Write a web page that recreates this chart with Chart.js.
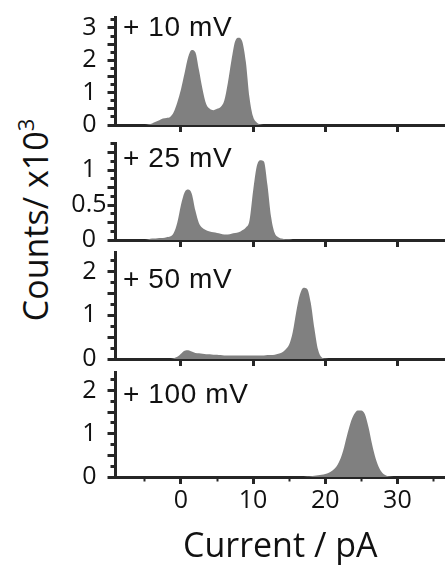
<!DOCTYPE html>
<html>
<head>
<meta charset="utf-8">
<script src="https://cdn.jsdelivr.net/npm/chart.js@4.4.1/dist/chart.umd.min.js"></script>
<style>
  body { margin: 0; background: #fff; width: 445px; height: 566px; position: relative; overflow: hidden; }
  canvas { position: absolute; left: 0; }
  .vlabel { position: absolute; left: 123px; font-family: "Liberation Sans", Arial, sans-serif; font-size: 28px; letter-spacing: 0.6px; line-height: 1; color: #111; white-space: nowrap; }
  #ytitle { position: absolute; left: 35px; top: 220px; font-family: "Open Sans", sans-serif; font-size: 34px; line-height: 1; color: #111; white-space: nowrap; transform: translate(-50%, -50%) rotate(-90deg); }
  #ytitle sup { font-size: 22px; vertical-align: 14px; line-height: 0; }
</style>
</head>
<body>
<div id="ytitle">Counts/ x10<sup>3</sup></div>
<script>
// current axis (pA), shared by all four histograms
const currents = [
  -9, -8.5, -8, -7.5, -7, -6.5, -6, -5.5, -5, -4.5,
  -4, -3.5, -3, -2.5, -2, -1.5, -1, -0.5, 0, 0.5,
  1, 1.5, 2, 2.5, 3, 3.5, 4, 4.5, 5, 5.5,
  6, 6.5, 7, 7.5, 8, 8.5, 9, 9.5, 10, 10.5,
  11, 11.5, 12, 12.5, 13, 13.5, 14, 14.5, 15, 15.5,
  16, 16.5, 17, 17.5, 18, 18.5, 19, 19.5, 20, 20.5,
  21, 21.5, 22, 22.5, 23, 23.5, 24, 24.5, 25, 25.5,
  26, 26.5, 27, 27.5, 28, 28.5, 29, 29.5, 30, 30.5,
  31, 31.5, 32, 32.5, 33, 33.5, 34, 34.5, 35, 35.5,
  36, 36.5
];

// counts (x10^3) per bias voltage
const counts10mV = [
  0, 0, 0, 0, 0, 0, 0, 0, 0, 0.02,
  0.05, 0.1, 0.15, 0.2, 0.22, 0.25, 0.4, 0.7, 1.1, 1.6,
  2.1, 2.32, 2.25, 1.7, 1.1, 0.65, 0.5, 0.46, 0.5, 0.56,
  0.75, 1.3, 2.0, 2.58, 2.7, 2.58, 1.95, 0.85, 0.26, 0.08,
  0.02, 0, 0, 0, 0, 0, 0, 0, 0, 0,
  0, 0, 0, 0, 0, 0, 0, 0, 0, 0,
  0, 0, 0, 0, 0, 0, 0, 0, 0, 0,
  0, 0, 0, 0, 0, 0, 0, 0, 0, 0,
  0, 0, 0, 0, 0, 0, 0, 0, 0, 0,
  0, 0
];
const counts25mV = [
  0, 0, 0, 0, 0, 0, 0, 0, 0, 0.01,
  0.02, 0.02, 0.03, 0.03, 0.04, 0.05, 0.1, 0.25, 0.5, 0.68,
  0.72, 0.66, 0.42, 0.24, 0.17, 0.14, 0.12, 0.11, 0.1, 0.09,
  0.08, 0.08, 0.09, 0.1, 0.11, 0.14, 0.18, 0.28, 0.7, 1.05,
  1.14, 1.12, 0.78, 0.33, 0.1, 0.04, 0.02, 0.01, 0.01, 0,
  0, 0, 0, 0, 0, 0, 0, 0, 0, 0,
  0, 0, 0, 0, 0, 0, 0, 0, 0, 0,
  0, 0, 0, 0, 0, 0, 0, 0, 0, 0,
  0, 0, 0, 0, 0, 0, 0, 0, 0, 0,
  0, 0
];
const counts50mV = [
  0, 0, 0, 0, 0, 0, 0, 0, 0, 0,
  0, 0, 0, 0, 0, 0, 0.02, 0.05, 0.12, 0.19,
  0.2, 0.17, 0.14, 0.13, 0.12, 0.11, 0.11, 0.1, 0.1, 0.09,
  0.08, 0.08, 0.08, 0.08, 0.08, 0.08, 0.08, 0.08, 0.08, 0.08,
  0.08, 0.08, 0.09, 0.09, 0.1, 0.12, 0.15, 0.22, 0.33, 0.62,
  1.1, 1.48, 1.63, 1.6, 1.28, 0.7, 0.22, 0.04, 0.01, 0,
  0, 0, 0, 0, 0, 0, 0, 0, 0, 0,
  0, 0, 0, 0, 0, 0, 0, 0, 0, 0,
  0, 0, 0, 0, 0, 0, 0, 0, 0, 0,
  0, 0
];
const counts100mV = [
  0, 0, 0, 0, 0, 0, 0, 0, 0, 0,
  0, 0, 0, 0, 0, 0, 0, 0, 0, 0,
  0, 0, 0, 0, 0, 0, 0, 0, 0, 0,
  0, 0, 0, 0, 0, 0, 0, 0, 0, 0,
  0, 0, 0, 0, 0, 0, 0, 0, 0, 0,
  0, 0, 0, 0.01, 0.02, 0.03, 0.04, 0.05, 0.07, 0.1,
  0.15, 0.23, 0.38, 0.62, 0.95, 1.25, 1.45, 1.54, 1.54, 1.45,
  1.15, 0.75, 0.42, 0.2, 0.08, 0.03, 0.01, 0, 0, 0,
  0, 0, 0, 0, 0, 0, 0, 0, 0, 0,
  0, 0
];

const voltageLabels = ['+ 10 mV', '+ 25 mV', '+ 50 mV', '+ 100 mV'];
const series = [counts10mV, counts25mV, counts50mV, counts100mV];
const yMax = [3.34, 1.386, 2.45, 2.43];
const yLabelValues = [[0, 1, 2, 3], [0, 0.5, 1], [0, 1, 2], [0, 1, 2]];
const yMinorStep = [0.25, 0.125, 0.25, 0.25];
const yMajorStep = [0.5, 0.25, 0.5, 0.5];
const xTickLabels = [0, 10, 20, 30];

// layout of each panel on the page (px)
const plotTop = [17, 143, 252, 372];
const plotBottom = [125, 240, 359, 477];
const labelTop = [13, 144, 265, 380];
const yLabelPad = [11, 1, 11, 11];

const axisColor = '#262626';
const textColor = '#111';
const clear = 'rgba(0,0,0,0)';
const onStep = (v, s) => Math.abs(v / s - Math.round(v / s)) < 1e-6;

function makePanel(i) {
  const last = i === 3;
  const padTop = 4;
  const xAxisH = last ? 566 - plotBottom[i] : 9;
  const canvas = document.createElement('canvas');
  canvas.width = 445;
  canvas.height = plotBottom[i] - plotTop[i] + padTop + xAxisH;
  canvas.style.top = (plotTop[i] - padTop) + 'px';
  document.body.appendChild(canvas);

  const lab = document.createElement('div');
  lab.className = 'vlabel';
  lab.style.top = labelTop[i] + 'px';
  lab.textContent = voltageLabels[i];
  document.body.appendChild(lab);

  new Chart(canvas, {
    type: 'line',
    data: {
      datasets: [{
        data: currents.map((x, k) => ({ x: x, y: series[i][k] })),
        fill: 'origin',
        backgroundColor: '#808080',
        borderColor: '#808080',
        borderWidth: 0,
        pointRadius: 0,
        cubicInterpolationMode: 'monotone'
      }]
    },
    options: {
      responsive: false,
      animation: false,
      devicePixelRatio: 1,
      layout: { autoPadding: false, padding: { top: padTop, left: 0, right: 0, bottom: 0 } },
      plugins: { legend: { display: false }, tooltip: { enabled: false } },
      scales: {
        x: {
          type: 'linear',
          min: -9.07,
          max: 36.6,
          afterFit: s => { s.height = xAxisH; s.paddingLeft = 0; s.paddingRight = 0; },
          border: { display: true, width: 3, color: axisColor },
          grid: {
            drawOnChartArea: false,
            tickLength: 7,
            tickWidth: ctx => onStep(ctx.tick.value, 10) ? 3 : 2,
            tickColor: ctx => (onStep(ctx.tick.value, 10) || last) ? axisColor : clear,
            tickBorderDash: ctx => onStep(ctx.tick.value, 10) ? [] : [2.5, 100]
          },
          ticks: {
            stepSize: 5,
            includeBounds: false,
            autoSkip: false,
            maxRotation: 0,
            padding: 2,
            color: textColor,
            font: { family: '"Open Sans", sans-serif', size: 25 },
            callback: v => (last && xTickLabels.includes(v)) ? String(v) : ''
          },
          title: {
            display: last,
            text: 'Current / pA',
            color: textColor,
            font: { family: '"Open Sans", sans-serif', size: 34, lineHeight: 1 },
            padding: { top: 0, bottom: 2 }
          }
        },
        y: {
          min: 0,
          max: yMax[i],
          afterFit: s => { s.width = 115.5; s.paddingTop = 0; s.paddingBottom = 0; },
          border: { display: true, width: 3, color: axisColor },
          grid: {
            drawOnChartArea: false,
            tickLength: 8,
            tickWidth: 3,
            tickColor: axisColor,
            tickBorderDash: ctx => onStep(ctx.tick.value, yMajorStep[i]) ? [] : [0, 3, 10, 100]
          },
          ticks: {
            stepSize: yMinorStep[i],
            includeBounds: false,
            autoSkip: false,
            crossAlign: 'center',
            padding: yLabelPad[i],
            color: textColor,
            font: { family: '"Open Sans", sans-serif', size: 25 },
            callback: v => yLabelValues[i].some(t => Math.abs(t - v) < 1e-6) ? String(v) : ''
          }
        }
      }
    }
  });
}

for (let i = 0; i < 4; i++) makePanel(i);
</script>
</body>
</html>
